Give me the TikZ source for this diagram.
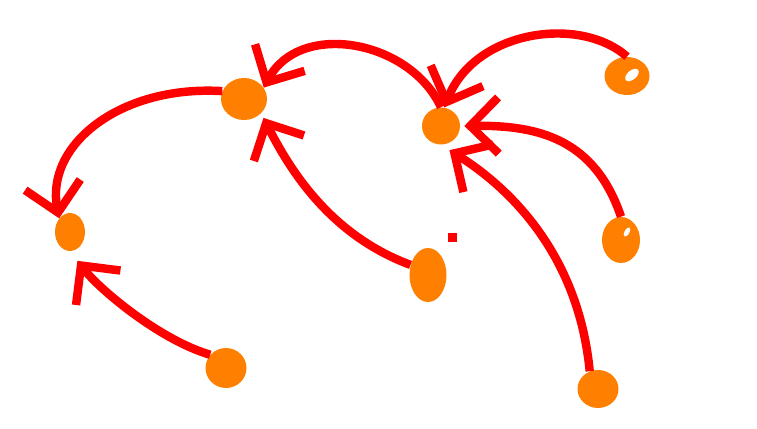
\documentclass[tikz,border=0pt]{standalone}
\usetikzlibrary{arrows.meta,shapes.geometric}
\definecolor{blobOrange}{RGB}{255,128,0}
\definecolor{linkRed}{RGB}{255,0,0}
\newcommand{\pxUnit}{0.02cm}
\begin{document}
\begin{tikzpicture}[x=\pxUnit, y=-\pxUnit,
   blob/.style={ellipse, fill=blobOrange, inner sep=0pt},
   link/.style={draw=linkRed, line width=4.8pt, -{Straight Barb[length=16pt,width=32pt]}}]
         \useasboundingbox (0,0) rectangle (757,429);

         \node[blob, minimum width=0.6cm,  minimum height=0.76cm] (A) at (70,232) {};
         \node[blob, minimum width=0.92cm, minimum height=0.84cm] (B) at (244,99) {};
         \node[blob, minimum width=0.76cm, minimum height=0.74cm] (C) at (441,126) {};
         \node[blob, minimum width=0.9cm,  minimum height=0.76cm] (D) at (627,76) {};
         \node[blob, minimum width=0.76cm, minimum height=0.92cm] (E) at (621,240) {};
         \node[blob, minimum width=0.74cm, minimum height=1.08cm] (F) at (428,275) {};
         \node[blob, minimum width=0.82cm, minimum height=0.8cm]  (G) at (226,368) {};
         \node[blob, minimum width=0.82cm, minimum height=0.76cm] (H) at (598,389) {};

         \fill[white, rotate around={40:(632,75)}] (632,75) ellipse (0.16cm and 0.09cm);
         \fill[white, rotate around={60:(627,232)}] (627,232) ellipse (0.1cm and 0.05cm);

         \draw[link] (B.160) .. controls (120,85) and (45,145) .. (A.north west);
         \draw[link, shorten >=0.24cm] (G.140) .. controls (160,340) and (100,290) .. (A.south);
         \draw[link] (C.north) .. controls (410,40) and (300,20) .. (B.30);
         \draw[link, shorten >=0.1cm] (F.150) .. controls (330,235) and (290,170) .. (B.-40);
         \draw[link] (D.north) .. controls (580,15) and (475,30) .. (C.80);
         \draw[link, shorten >=0.08cm] (E.north) .. controls (595,140) and (540,125) .. (C.east);
         \draw[link, shorten >=0.2cm] (H.115) .. controls (578,250) and (505,185) .. (C.south);

         \fill[linkRed] (447.5,232.5) rectangle (456.5,241.5);
      \end{tikzpicture}
\end{document}
